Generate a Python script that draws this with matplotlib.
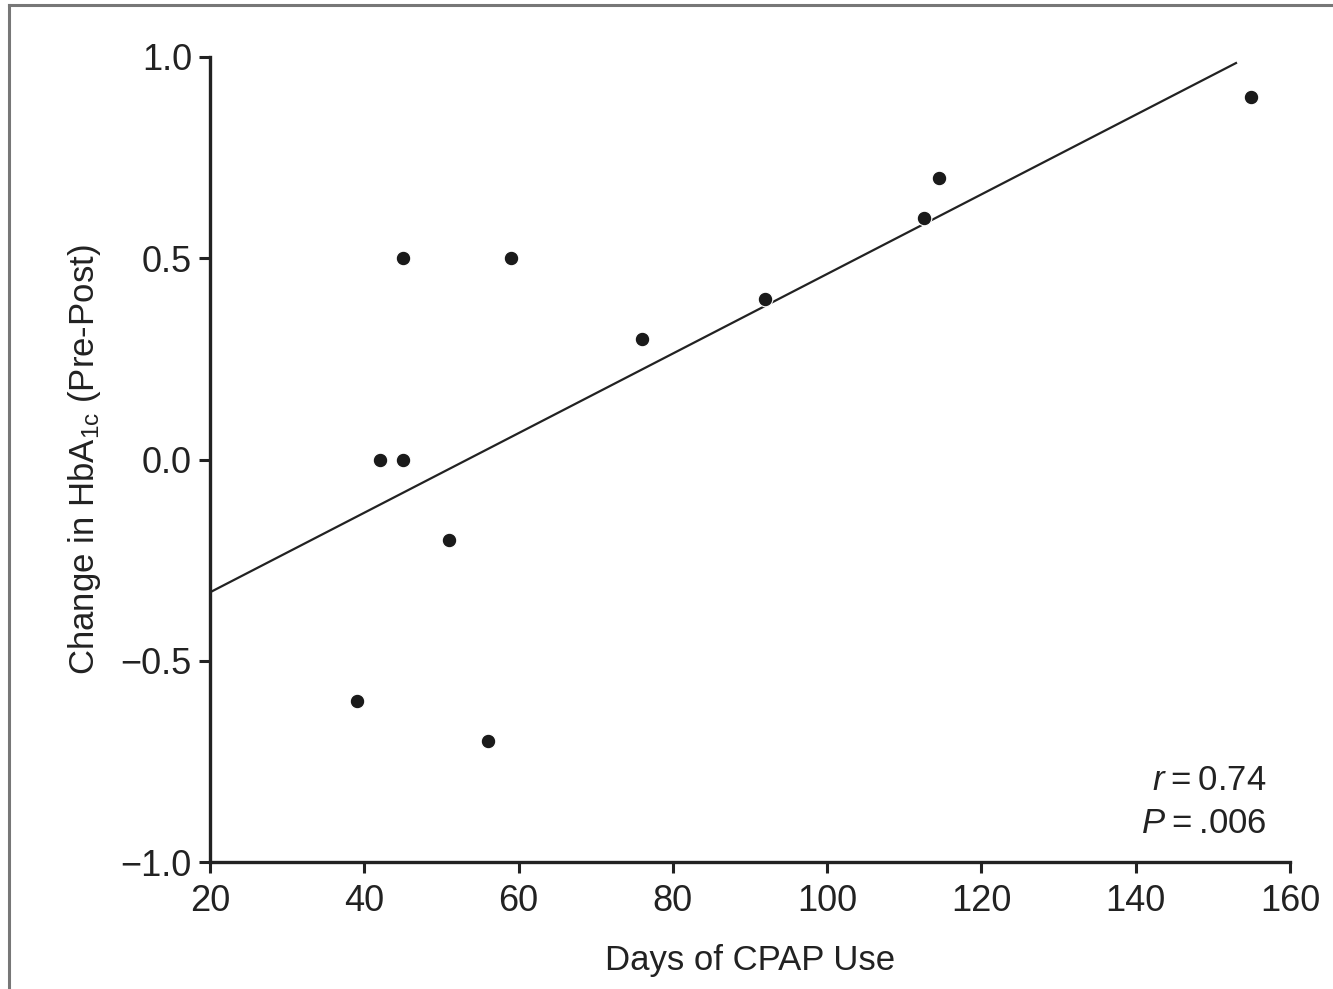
import matplotlib
matplotlib.use("Agg")
import matplotlib.pyplot as plt
from matplotlib.lines import Line2D
from matplotlib import font_manager

days = [39, 42, 45, 45, 51, 56, 59, 76, 92, 112.5, 114.5, 155]
change = [-0.6, 0.0, 0.5, 0.0, -0.2, -0.7, 0.5, 0.3, 0.4, 0.6, 0.7, 0.9]
fit_x = [20, 153]
fit_y = [-0.33, 0.985]
xticks = [20, 40, 60, 80, 100, 120, 140, 160]
yticks = [-1.0, -0.5, 0.0, 0.5, 1.0]
yticklabels = ["\u22121.0", "\u22120.5", "0.0", "0.5", "1.0"]

names = {f.name for f in font_manager.fontManager.ttflist}
fam = "Liberation Sans Narrow" if "Liberation Sans Narrow" in names else "Liberation Sans"
plt.rcParams['font.family'] = [fam, 'DejaVu Sans']
plt.rcParams['mathtext.fontset'] = 'custom'
plt.rcParams['mathtext.rm'] = fam
plt.rcParams['mathtext.it'] = fam + ':italic'

fig = plt.figure(figsize=(13.33, 9.89), dpi=100)
ax = fig.add_axes([210/1333, 1-862/989, 1080/1333, 805/989])

ax.plot(fit_x, fit_y, color='#222222', lw=1.6, zorder=2)
ax.plot(days, change, 'o', color='#1a1a1a', ms=10.5, mec='white', mew=0.8, zorder=3)

ax.set_xlim(20, 160)
ax.set_ylim(-1.0, 1.0)
ax.set_xticks(xticks)
ax.set_yticks(yticks)
ax.set_yticklabels(yticklabels)
for s in ['top', 'right']:
    ax.spines[s].set_visible(False)
for s in ['left', 'bottom']:
    ax.spines[s].set_linewidth(2.4)
    ax.spines[s].set_color('#222222')
ax.tick_params(direction='out', length=8, width=2.2, color='#222222',
               labelsize=26, labelcolor='#222222')
ax.tick_params(axis='x', pad=8)
ax.tick_params(axis='y', pad=5)

ax.set_xlabel("Days of CPAP Use", fontsize=25, color='#222222', labelpad=18)
ax.set_ylabel("Change in HbA$_{1\\mathrm{c}}$ (Pre-Post)", fontsize=25, color='#222222', labelpad=13)

ax.text(0.978, 0.089, "$\\mathit{r}$\u2009=\u20090.74", transform=ax.transAxes, ha='right',
        va='baseline', fontsize=25, color='#222222')
ax.text(0.978, 0.036, "$\\mathit{P}$\u2009=\u2009.006", transform=ax.transAxes, ha='right',
        va='baseline', fontsize=25, color='#222222')

fig.add_artist(Line2D([9/1333, 9/1333], [0, 1-5/989], transform=fig.transFigure,
                      color='#777777', lw=2.2))
fig.add_artist(Line2D([9/1333, 1], [1-5/989, 1-5/989], transform=fig.transFigure,
                      color='#777777', lw=2.2))

fig.savefig("out.png", dpi=100)
